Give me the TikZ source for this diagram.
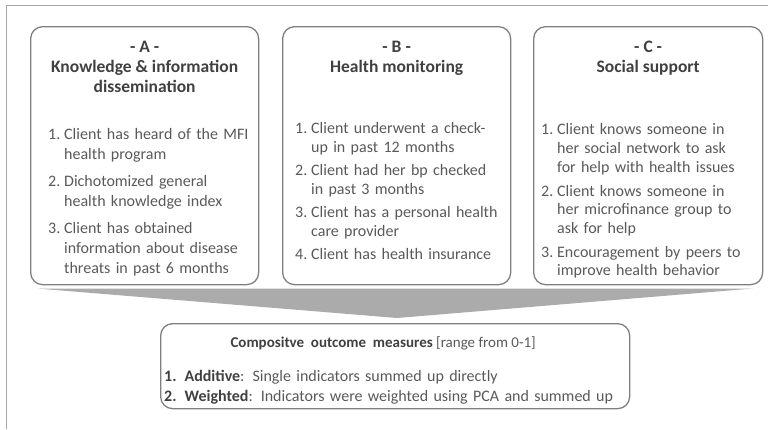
\documentclass[tikz,border=0pt]{standalone}
\usepackage{fontspec}
\setmainfont{Carlito}
\usetikzlibrary{positioning}

\definecolor{boxline}{HTML}{7F7F7F}
\definecolor{bodytext}{HTML}{595959}
\definecolor{headtext}{HTML}{404040}
\definecolor{arrowgray}{HTML}{ABABAB}
\definecolor{framegray}{HTML}{A6A6A6}

% numbered entry with hanging indent
\newcommand{\entry}[2]{\par\hangindent=1em\hangafter=1\noindent\makebox[1em][l]{#1}{\let\\\newline #2}\par}

\begin{document}
\begin{tikzpicture}[x=1pt, y=-1pt,
  panel/.style={draw=boxline, line width=1.3pt, rounded corners=12pt, inner sep=0pt, anchor=north west},
  head/.style={align=center, inner sep=0pt, text=headtext, font=\fontsize{17.5}{20}\selectfont\bfseries},
  items/.style 2 args={text width=215pt, inner sep=0pt, text=bodytext, font=\fontsize{16}{#1}\selectfont\setlength{\parskip}{#2}}]

\useasboundingbox (0,0) rectangle (768,429);
\draw [framegray, line width=0.8pt] (6,429) -- (6,5.5) -- (768,5.5);

% the three groups of indicators
\node [panel, minimum width=228pt, minimum height=258pt] (boxA) at (30,26) {};
\node [panel, minimum width=228pt, minimum height=258pt] (boxB) at (282,26) {};
\node [panel, minimum width=229pt, minimum height=258pt] (boxC) at (533,26) {};

\node [head, below=15pt of boxA.north] (headA) {- A -\\Knowledge \& information\\dissemination};
\node [head, below=15pt of boxB.north] (headB) {- B -\\Health monitoring};
\node [head, below=15pt of boxC.north] (headC) {- C -\\Social support};

\node [items={20pt}{7pt}, below right=86pt and 18pt of boxA.north west] (listA) {%
\entry{1.}{Client has heard of the MFI\\health program}
\entry{2.}{Dichotomized general\\health knowledge index}
\entry{3.}{Client has obtained\\information about disease\\threats in past 6 months}};

\node [items={18.5pt}{5pt}, below right=84pt and 13pt of boxB.north west] (listB) {%
\entry{1.}{Client underwent a check-\\up in past 12 months}
\entry{2.}{Client had her bp checked\\in past 3 months}
\entry{3.}{Client has a personal health\\care provider}
\entry{4.}{Client has health insurance}};

\node [items={18.7pt}{5pt}, below right=85pt and 8pt of boxC.north west] (listC) {%
\entry{1.}{Client knows someone in\\her social network to ask\\for help with health issues}
\entry{2.}{Client knows someone in\\her microfinance group to\\ask for help}
\entry{3.}{Encouragement by peers to\\improve health behavior}};

% funnel
\coordinate (funL) at (37,288.5);
\coordinate (funR) at (753,288.5);
\coordinate (funT) at (397,318);
\fill [arrowgray] (funL) -- (funR) -- (funT) -- cycle;

% composite outcome
\node [panel, minimum width=469pt, minimum height=85pt] (boxD) at (160,323) {};
\node [head, font=\fontsize{15}{18}\selectfont\bfseries, below=13.5pt of boxD.north, xshift=-12pt] (headD) {Compositve\ \ outcome\ \ measures \mdseries\color{bodytext}[range from 0-1]};
\node [items={20pt}{0pt}, text width=470pt, below right=38pt and 4pt of boxD.north west] (listD) {%
\par\noindent{\bfseries\color{headtext}1. Additive}: Single indicators summed up directly
\par\noindent{\bfseries\color{headtext}2. Weighted}: Indicators were weighted using PCA and summed up};
\end{tikzpicture}
\end{document}
